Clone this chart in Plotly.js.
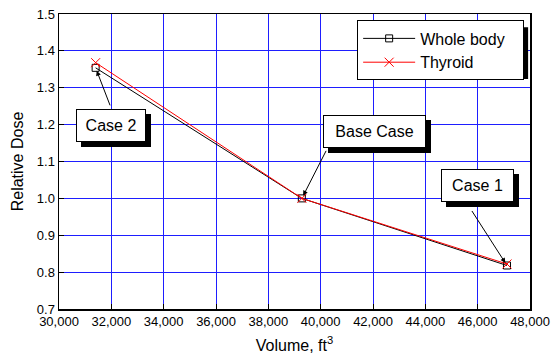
<!DOCTYPE html>
<html>
<head>
<meta charset="utf-8">
<script src="https://cdn.plot.ly/plotly-3.0.1.min.js"></script>
<style>html,body{margin:0;padding:0;background:#fff;}#chart{width:558px;height:358px;}</style>
</head>
<body>
<div id="chart"></div>
<script>
// Data
var volume = [31400, 39280, 47120];
var wholeBody = [1.354, 1.0, 0.818];
var thyroid = [1.368, 1.0, 0.822];
var seriesNames = ['Whole body', 'Thyroid'];
var caseLabels = ['Case 2', 'Base Case', 'Case 1'];
// annotation box centres (data coords) and arrow tail offsets (px from the point)
var boxX = [31970, 42040, 45995];
var boxY = [1.198, 1.181, 1.036];
var boxW = [66, 99, 69];
var tailDX = [15, 25, -36];
var tailDY = [39, -49, -56];

var FONT = 'Liberation Sans, Arial, sans-serif';
var PAD = '\u00a0\u00a0\u00a0';

var traces = [
  {x: volume, y: wholeBody, name: seriesNames[0] + PAD, mode: 'lines+markers', type: 'scatter',
   line: {color: 'black', width: 1},
   marker: {symbol: 'square-open', size: 7, color: 'black', line: {width: 1, color: 'black'}}},
  {x: volume, y: thyroid, name: seriesNames[1], mode: 'lines+markers', type: 'scatter',
   line: {color: 'red', width: 1},
   marker: {symbol: 'x-thin-open', size: 9, color: 'red', line: {width: 1, color: 'red'}}}
];

var annotations = [];
for (var i = 0; i < caseLabels.length; i++) {
  annotations.push({x: volume[i], y: wholeBody[i], xref: 'x', yref: 'y', text: '',
    showarrow: true, ax: tailDX[i], ay: tailDY[i],
    arrowhead: 2, arrowsize: 1, arrowwidth: 1, arrowcolor: 'black', standoff: 3});
  annotations.push({x: boxX[i], y: boxY[i], xref: 'x', yref: 'y', text: caseLabels[i],
    showarrow: false, xshift: 5, yshift: -5, width: boxW[i], height: 29,
    bgcolor: 'black', bordercolor: 'black', borderwidth: 1, borderpad: 1,
    font: {family: FONT, size: 16, color: 'black'}});
  annotations.push({x: boxX[i], y: boxY[i], xref: 'x', yref: 'y', text: caseLabels[i],
    showarrow: false, width: boxW[i], height: 29,
    bgcolor: 'white', bordercolor: 'black', borderwidth: 1, borderpad: 1,
    font: {family: FONT, size: 16, color: 'black'}});
}

var layout = {
  width: 558, height: 358,
  margin: {l: 59, r: 28, t: 14, b: 49},
  paper_bgcolor: 'white', plot_bgcolor: 'white',
  font: {family: FONT, size: 13, color: 'black'},
  showlegend: true,
  legend: {x: 0.633, y: 0.978, xanchor: 'left', yanchor: 'top',
    bgcolor: 'white', bordercolor: 'black', borderwidth: 1,
    font: {family: FONT, size: 16, color: 'black'}, itemwidth: 52, tracegroupgap: 0},
  xaxis: {range: [30000, 48000], dtick: 2000, tick0: 30000, tickformat: ',d',
    showgrid: true, gridcolor: 'rgb(30,30,255)', gridwidth: 1,
    showline: true, mirror: true, linecolor: 'black', linewidth: 1.5,
    ticks: 'inside', ticklen: 5, tickcolor: 'black', zeroline: false,
    tickfont: {family: FONT, size: 13},
    title: {text: 'Volume, ft<sup>3</sup>', font: {family: FONT, size: 16}, standoff: 11}},
  yaxis: {range: [0.7, 1.5], dtick: 0.1, tick0: 0.7, tickformat: '.1f',
    showgrid: true, gridcolor: 'rgb(30,30,255)', gridwidth: 1,
    showline: true, mirror: true, linecolor: 'black', linewidth: 1.5,
    ticks: 'inside', ticklen: 5, tickcolor: 'black', zeroline: false,
    tickfont: {family: FONT, size: 13},
    title: {text: 'Relative Dose', font: {family: FONT, size: 16}, standoff: 9}},
  shapes: [
    {type: 'rect', xref: 'paper', yref: 'paper', x0: 0.645, x1: 0.996, y0: 0.78, y1: 0.955,
     fillcolor: 'black', line: {width: 0}, layer: 'above'}
  ],
  annotations: annotations
};

Plotly.newPlot('chart', traces, layout, {displayModeBar: false, staticPlot: true});
</script>
</body>
</html>
